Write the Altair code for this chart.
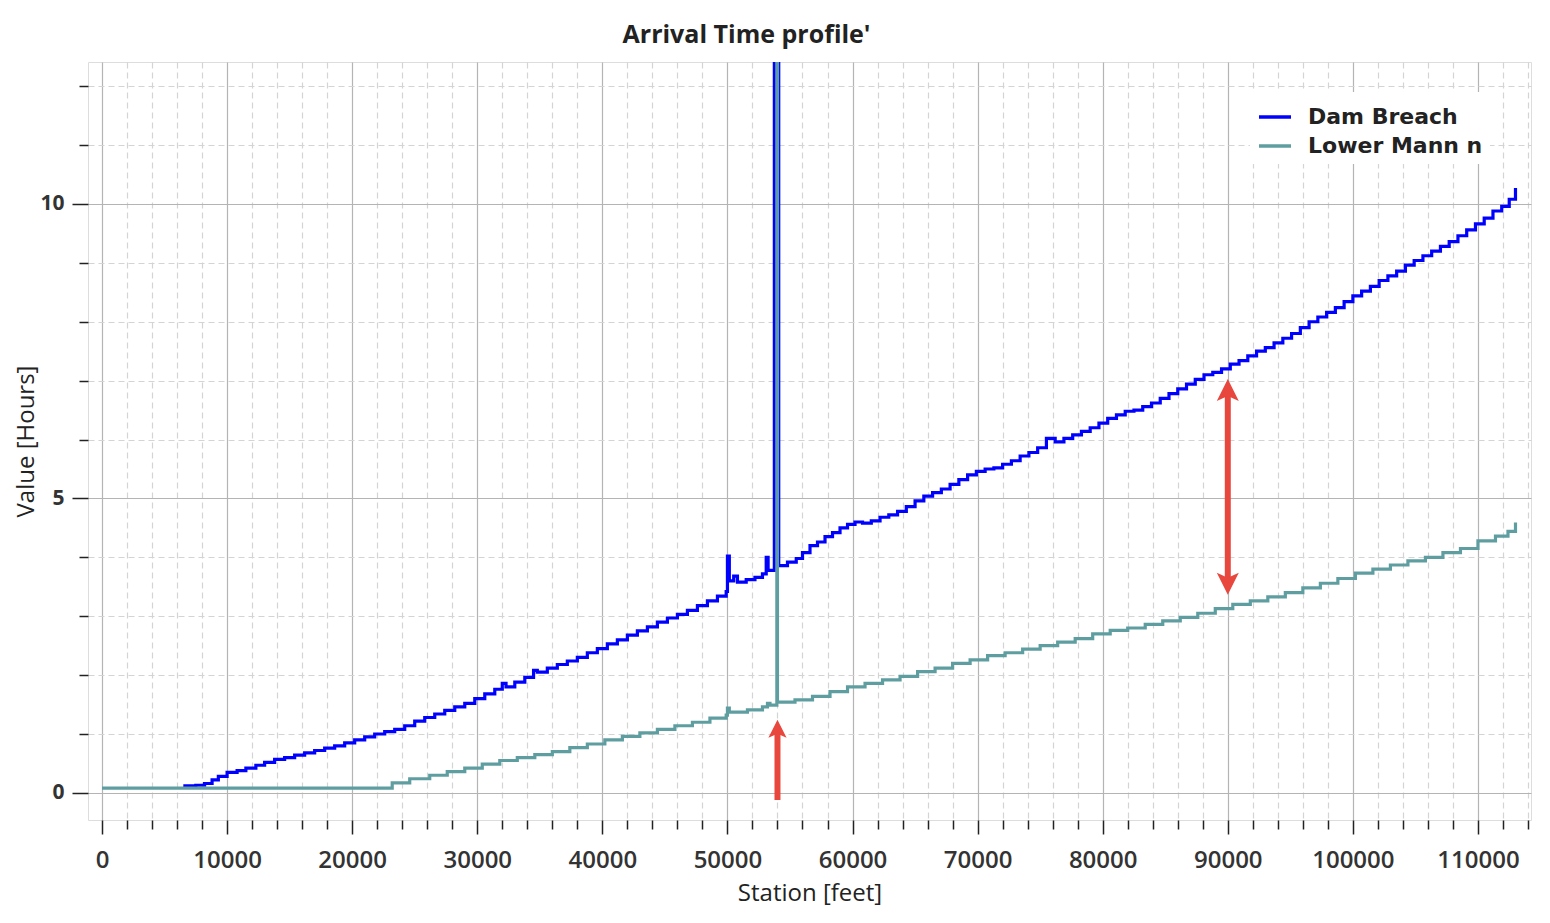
import altair as alt
import pandas as pd

# ---- Data ----
series_names = ["Dam Breach", "Lower Mann n"]
series_colors = ["#0000ff", "#5f9ea0"]

dam_x = [6500, 7500, 8200, 8800, 9300, 10000, 10800, 11500, 12300, 13000, 13800, 14600,
         15400, 16200, 17000, 17800, 18600, 19400, 20200, 21000, 21800, 22600, 23400, 24200,
         25000, 25800, 26600, 27400, 28200, 29000, 29800, 30600, 31400, 32000, 32300, 33000,
         33800, 34500, 34800, 35600, 36400, 37200, 38000, 38800, 39600, 40400, 41200, 42000,
         42800, 43600, 44400, 45200, 46000, 46800, 47600, 48400, 49200, 49900, 50000, 50150,
         50500, 50800, 51500, 52200, 52800, 53100, 53250, 53750, 54100, 54800, 55500, 56000,
         56600, 57200, 57800, 58400, 59000, 59600, 60200, 60800, 61500, 62200, 62900, 63600,
         64300, 65000, 65700, 66400, 67100, 67800, 68500, 69200, 69900, 70600, 71300, 72000,
         72700, 73400, 74100, 74800, 75500, 76200, 76900, 77600, 78300, 79000, 79700, 80400,
         81100, 81800, 82500, 83200, 83900, 84600, 85300, 86000, 86700, 87400, 88100, 88800,
         89500, 90200, 90900, 91600, 92300, 93000, 93700, 94400, 95100, 95800, 96500, 97200,
         97900, 98600, 99300, 100000, 100700, 101400, 102100, 102800, 103500, 104200, 104900,
         105600, 106300, 107000, 107700, 108400, 109100, 109800, 110500, 111200, 111900,
         112500, 113000]
dam_y = [0.12, 0.13, 0.16, 0.22, 0.28, 0.35, 0.38, 0.42, 0.47, 0.52, 0.57, 0.60,
         0.64, 0.68, 0.72, 0.76, 0.80, 0.85, 0.90, 0.95, 1.00, 1.04, 1.08, 1.14,
         1.22, 1.28, 1.34, 1.40, 1.46, 1.52, 1.60, 1.68, 1.76, 1.86, 1.80, 1.88,
         1.96, 2.08, 2.05, 2.12, 2.18, 2.24, 2.30, 2.38, 2.45, 2.53, 2.60, 2.68,
         2.75, 2.82, 2.90, 2.97, 3.03, 3.10, 3.18, 3.26, 3.34, 3.42, 4.02, 3.60,
         3.68, 3.58, 3.62, 3.66, 3.72, 4.00, 3.78, 15.0, 3.86, 3.92, 3.98, 4.08,
         4.20, 4.26, 4.35, 4.42, 4.50, 4.56, 4.60, 4.58, 4.62, 4.68, 4.72, 4.78,
         4.86, 4.96, 5.04, 5.10, 5.16, 5.24, 5.32, 5.40, 5.46, 5.50, 5.52, 5.58,
         5.64, 5.72, 5.78, 5.86, 6.02, 5.96, 6.02, 6.08, 6.14, 6.20, 6.28, 6.36,
         6.42, 6.48, 6.50, 6.56, 6.62, 6.70, 6.78, 6.86, 6.94, 7.02, 7.10, 7.14,
         7.20, 7.28, 7.34, 7.42, 7.50, 7.56, 7.64, 7.72, 7.80, 7.90, 8.00, 8.08,
         8.16, 8.24, 8.34, 8.44, 8.52, 8.60, 8.70, 8.78, 8.86, 8.96, 9.04,
         9.12, 9.20, 9.28, 9.36, 9.46, 9.56, 9.66, 9.76, 9.88, 9.96,
         10.08, 10.27]

mann_x = [0, 23200, 24600, 26200, 27600, 29000, 30400, 31800, 33200, 34600, 36000, 37400,
          38800, 40200, 41600, 43000, 44400, 45800, 47200, 48600, 49900, 50000, 50150, 51600,
          52800, 53200, 53400, 53950, 54000, 55400, 56800, 58200, 59600, 61000, 62400, 63800,
          65200, 66600, 68000, 69400, 70800, 72200, 73600, 75000, 76400, 77800, 79200, 80600,
          82000, 83400, 84800, 86200, 87600, 89000, 90400, 91800, 93200, 94600, 96000, 97400,
          98800, 100200, 101600, 103000, 104400, 105800, 107200, 108600, 110000, 111400,
          112400, 113000]
mann_y = [0.08, 0.17, 0.24, 0.30, 0.36, 0.42, 0.49, 0.55, 0.60, 0.65, 0.70, 0.77,
          0.83, 0.90, 0.96, 1.02, 1.08, 1.14, 1.20, 1.27, 1.32, 1.44, 1.37, 1.41,
          1.46, 1.52, 1.49, 15.0, 1.54, 1.58, 1.64, 1.72, 1.80, 1.86, 1.92, 1.98,
          2.06, 2.12, 2.20, 2.26, 2.33, 2.38, 2.44, 2.50, 2.56, 2.62, 2.70, 2.76,
          2.80, 2.86, 2.92, 2.98, 3.05, 3.13, 3.20, 3.26, 3.33, 3.40, 3.48, 3.56,
          3.64, 3.73, 3.80, 3.87, 3.94, 4.00, 4.08, 4.15, 4.28, 4.36,
          4.44, 4.59]

x_ticks = list(range(0, 114001, 2000))
y_ticks = list(range(0, 13))
x_domain = [-1120, 114240]
y_domain = [-0.46, 12.41]

# red annotation arrows
arrow_x = [54000, 90000]
arrow_y0 = [-0.12, 3.55]
arrow_y1 = [1.05, 6.84]
head_x = [54000, 90000, 90000]
head_y = [1.09, 6.84, 3.55]
head_size = [330, 484, 484]
UP = "M0,-1L1,1L0,0.55L-1,1Z"
DOWN = "M0,1L1,-1L0,-0.55L-1,-1Z"
head_shape = [UP, UP, DOWN]
arrow_color = "#e8473e"

# ---- Tables ----
dam_df = pd.DataFrame({"x": dam_x, "y": dam_y, "series": series_names[0]})
mann_df = pd.DataFrame({"x": mann_x, "y": mann_y, "series": series_names[1]})
arrows_df = pd.DataFrame({"x": arrow_x, "y0": arrow_y0, "y1": arrow_y1})
heads_df = pd.DataFrame({"x": head_x, "y": head_y, "s": head_size, "shape": head_shape})

FONT = "Open Sans"

x_axis = alt.Axis(
    values=x_ticks, tickCount=500,
    title="Station [feet]",
    titleFont=FONT, titleFontSize=24, titleFontWeight="normal", titleColor="#222",
    titlePadding=9,
    labelFont=FONT, labelFontSize=24, labelFontWeight=600, labelColor="#333",
    labelExpr="datum.value % 10000 === 0 ? format(datum.value, 'd') : ''",
    labelPadding=14, labelOverlap=False, labelBound=False, labelFlush=False,
    domain=False,
    tickColor="#222", tickWidth=1.5,
    tickSize={"condition": {"test": "datum.value % 10000 === 0", "value": 14}, "value": 9},
    grid=True,
    gridColor={"condition": {"test": "datum.value % 10000 === 0", "value": "#b4b4b4"}, "value": "#d4d4d4"},
    gridDash={"condition": {"test": "datum.value % 10000 === 0", "value": []}, "value": [6, 4]},
    gridWidth=1.2,
)
y_axis = alt.Axis(
    values=y_ticks, tickCount=500,
    title="Value [Hours]",
    titleFont=FONT, titleFontSize=24, titleFontWeight="normal", titleColor="#222",
    titleX=-62, titleY=379, titleAngle=270, titleAlign="center", titleBaseline="middle",
    labelFont=FONT, labelFontSize=21, labelFontWeight="bold", labelColor="#333",
    labelExpr="datum.value % 5 === 0 ? format(datum.value, 'd') : ''",
    labelPadding=8, labelOverlap=False, labelBound=False, labelFlush=False,
    domain=False,
    tickColor="#222", tickWidth=1.5,
    tickSize={"condition": {"test": "datum.value % 5 === 0", "value": 16}, "value": 9},
    grid=True,
    gridColor={"condition": {"test": "datum.value % 5 === 0", "value": "#b4b4b4"}, "value": "#d4d4d4"},
    gridDash={"condition": {"test": "datum.value % 5 === 0", "value": []}, "value": [6, 4]},
    gridWidth=1.2,
)

xs = alt.Scale(domain=x_domain, nice=False, zero=False)
ys = alt.Scale(domain=y_domain, nice=False, zero=False)

color = alt.Color(
    "series:N",
    scale=alt.Scale(domain=series_names, range=series_colors),
    legend=alt.Legend(
        title=None, orient="none", legendX=1162, legendY=30,
        symbolType="stroke", symbolSize=1024, symbolStrokeWidth=3.5,
        labelFont="DejaVu Sans", labelFontSize=22, labelFontWeight="bold", labelColor="#222",
        labelOffset=15, rowPadding=-9, padding=7, fillColor="white",
        labelLimit=400,
    ),
)

dam = alt.Chart(dam_df).mark_line(strokeWidth=3.2, interpolate="step-after", clip=True).encode(
    x=alt.X("x:Q", scale=xs, axis=x_axis),
    y=alt.Y("y:Q", scale=ys, axis=y_axis),
    color=color,
)
mann = alt.Chart(mann_df).mark_line(strokeWidth=3.2, interpolate="step-after", clip=True).encode(
    x=alt.X("x:Q", scale=xs, axis=x_axis),
    y=alt.Y("y:Q", scale=ys, axis=y_axis),
    color=color,
)
shafts = alt.Chart(arrows_df).mark_rule(color=arrow_color, strokeWidth=6, clip=True).encode(
    x="x:Q", y="y0:Q", y2="y1:Q"
)
heads = alt.Chart(heads_df).mark_point(filled=True, color=arrow_color, opacity=1, clip=True).encode(
    x="x:Q", y="y:Q",
    size=alt.Size("s:Q", scale=None, legend=None),
    shape=alt.Shape("shape:N", scale=None, legend=None),
)

chart = alt.layer(dam, mann, shafts, heads).properties(
    width=1443, height=758,
    autosize=alt.AutoSizeParams(type="none"),
    padding={"left": 80, "top": 54, "right": 11, "bottom": 95},
    title=alt.TitleParams(
        "Arrival Time profile'", font=FONT, fontSize=25, fontWeight="bold", color="#222",
        anchor="middle", dx=-63, offset=14,
    ),
).configure_view(stroke="#2a2a2a", strokeWidth=2).configure(background="white")

chart.save("out.html", embed_options={"renderer": "svg", "actions": False})
